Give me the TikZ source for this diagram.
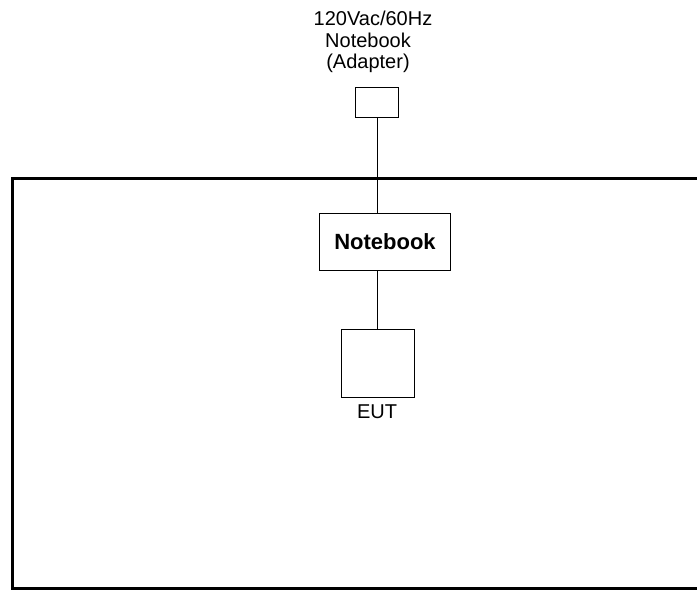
\documentclass[tikz,border=0pt]{standalone}
\usepackage{fontspec}
\setmainfont{Liberation Sans}
\usetikzlibrary{positioning}

\begin{document}
\begin{tikzpicture}[
    x=1pt, y=-1pt,
    box/.style={draw, line width=1pt, inner sep=0pt},
    caption/.style={font=\fontsize{20}{22}\selectfont, inner sep=0pt, anchor=base},
]
    \useasboundingbox (0,0) rectangle (697,590);
    % table frame
    \draw[line width=3pt] (740,178) -- (12,178) -- (12,588) -- (740,588);

    \node[caption] (mains) at (373,25) {120Vac/60Hz};
    \node[caption] (adlabel) at (368,47) {Notebook};
    \node[caption] (adlabel2) at (368,68) {(Adapter)};

    \node[box, minimum width=43pt, minimum height=30pt] (adapter) at (377,102) {};
    \node[box, minimum width=131pt, minimum height=57pt,
        font=\bfseries\fontsize{22}{24}\selectfont] (notebook) at (385,242) {Notebook};
    \node[box, minimum width=73pt, minimum height=68pt] (eut) at (378,363) {};
    \node[caption] (eutlabel) at (377,418) {EUT};

    \draw[line width=1pt] (adapter) -- (adapter |- notebook.north);
    \draw[line width=1pt] (notebook.south -| adapter) -- (eut.north -| adapter);
\end{tikzpicture}
\end{document}
